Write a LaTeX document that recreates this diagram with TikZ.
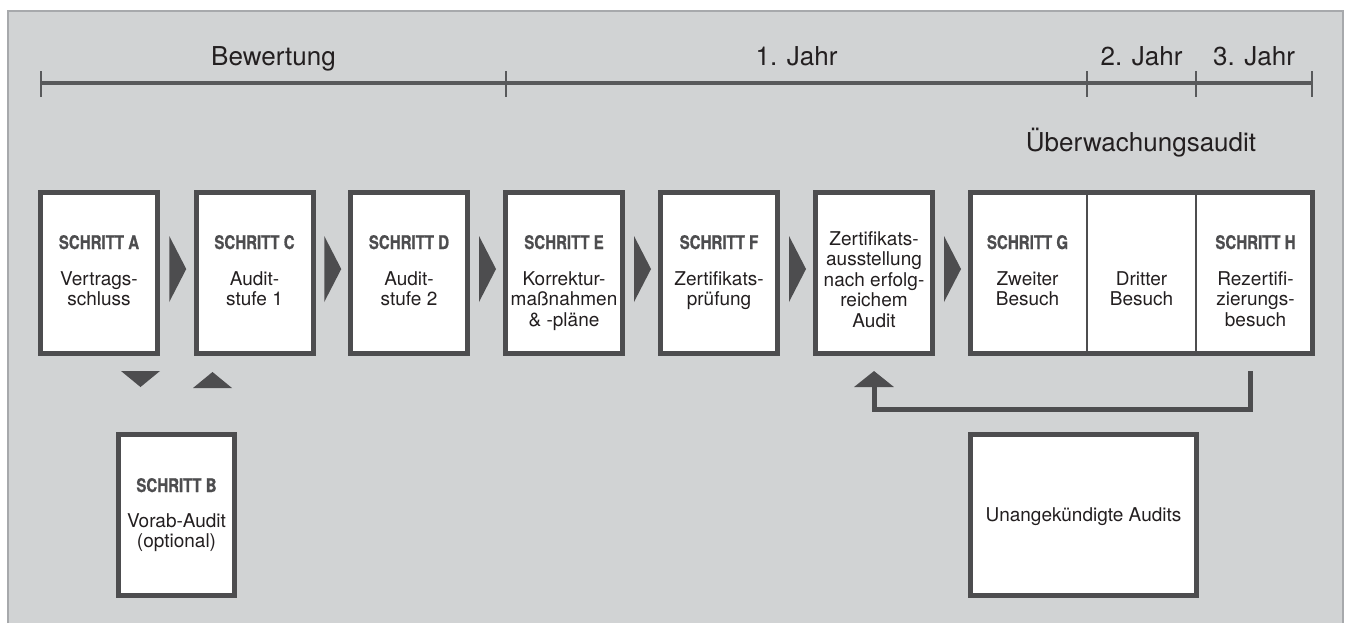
\documentclass[tikz,border=0pt]{standalone}
\usepackage{fontspec}
\setmainfont{TeX Gyre Heros}
\newfontfamily\cbfont[FakeStretch=0.8, FakeBold=0.8]{TeX Gyre Heros}
\usetikzlibrary{arrows.meta,calc}
\definecolor{panel}{HTML}{D1D3D4}
\definecolor{panelline}{HTML}{A7A9AC}
\definecolor{dark}{HTML}{4D4D4F}
\definecolor{txt}{HTML}{231F20}
\definecolor{tlc}{HTML}{58595B}
\newcommand\ml[1]{\begin{tabular}[t]{@{}c@{}}#1\end{tabular}}
\begin{document}
\begin{tikzpicture}[x=0.5pt,y=-0.5pt,
  stepbox/.style={draw=dark, line width=2.5pt, fill=white, inner sep=0pt, minimum width=58.5pt, minimum height=80.5pt},
  head/.style={font=\fontsize{9.4}{10}\cbfont\bfseries, text=dark, anchor=base, inner sep=0pt},
  body/.style={font=\fontsize{9.5}{10.2}\selectfont, text=txt, anchor=base, inner sep=0pt},
  big/.style={font=\fontsize{13}{15}\selectfont, text=txt, anchor=base, inner sep=0pt},
  tri/.style={fill=dark},
  tline/.style={draw=tlc, line width=1.6pt},
  tick/.style={draw=tlc, line width=1.2pt},
  ret/.style={draw=dark, line width=2.5pt, -{Triangle[width=19.5pt,length=8pt]}}
]
\useasboundingbox (0,0) rectangle (1347,623);
% panel
\fill[panel] (8,11) rectangle (1343,623);
\draw[panelline, line width=0.6pt] (8,623) -- (8,11) -- (1343,11) -- (1343,623);

% timeline
\coordinate (t0) at (41,83);
\coordinate (t1) at (506,83);
\coordinate (t2) at (1087,83);
\coordinate (t3) at (1196,83);
\coordinate (t4) at (1312,83);
\draw[tline] (t0) -- (t4);
\foreach \t in {t0,t1,t2,t3,t4} \draw[tick] ($(\t)+(0,-12)$) -- ($(\t)+(0,14)$);
\node[big] (lb) at (273.5,65) {Bewertung};
\node[big] (l1) at (796.5,65) {1. Jahr};
\node[big] (l2) at (1141.5,65) {2. Jahr};
\node[big] (l3) at (1254,65) {3. Jahr};
\node[big] (lu) at (1141,151) {Überwachungsaudit};

% boxes top row
\node[stepbox] (A) at (99,273) {};
\node[stepbox] (C) at (254.5,273) {};
\node[stepbox] (D) at (409,273) {};
\node[stepbox] (E) at (564,273) {};
\node[stepbox] (F) at (719,273) {};
\node[stepbox] (Z) at (874,273) {};
\node[stepbox, minimum width=171pt] (GH) at (1141.5,273) {};
\draw[draw=dark, line width=1.4pt] (1087,192.5) -- (1087,353.5);
\draw[draw=dark, line width=1.4pt] (1196,192.5) -- (1196,353.5);

% bottom boxes
\node[stepbox, minimum width=58pt] (B) at (176.5,515) {};
\node[stepbox, minimum width=113pt] (U) at (1083.5,515) {};

% texts
\node[head] (hA) at (99,249) {SCHRITT A};
\node[body] (bA) at (99,285.5) {\ml{Vertrags-\\schluss}};
\node[head] (hC) at (254.5,249) {SCHRITT C};
\node[body] (bC) at (254.5,285.5) {\ml{Audit-\\stufe 1}};
\node[head] (hD) at (409,249) {SCHRITT D};
\node[body] (bD) at (409,285.5) {\ml{Audit-\\stufe 2}};
\node[head] (hE) at (564,249) {SCHRITT E};
\node[body] (bE) at (564,285.5) {\ml{Korrektur-\\maßnahmen\\\& -pläne}};
\node[head] (hF) at (719,249) {SCHRITT F};
\node[body] (bF) at (719,285.5) {\ml{Zertifikats-\\prüfung}};
\node[body] (bZ) at (874,245.5) {\ml{Zertifikats-\\ausstellung\\nach erfolg-\\reichem\\Audit}};
\node[head] (hG) at (1027.5,249) {SCHRITT G};
\node[body] (bG) at (1027.5,285.5) {\ml{Zweiter\\Besuch}};
\node[body] (bD3) at (1141.5,285.5) {\ml{Dritter\\Besuch}};
\node[head] (hH) at (1255.5,249) {SCHRITT H};
\node[body] (bH) at (1255.5,285.5) {\ml{Rezertifi-\\zierungs-\\besuch}};
\node[head] (hB) at (176.5,492) {SCHRITT B};
\node[body] (bB) at (176.5,527) {\ml{Vorab-Audit\\(optional)}};
\node[body] (bU) at (1083.5,521) {Unangekündigte Audits};

% flow arrows
\foreach \a/\b in {A/C,C/D,D/E,E/F,F/Z,Z/GH}
  \fill[tri] ($(\a.east)!0.5!(\b.west)$) ++(-7.5,-37) -- ++(17,33) -- ++(-17,33) -- cycle;

% arrows to/from B
\fill[tri] ($(B.north)+(-55.5,-61)$) -- ++(39,0) -- ++(-19.5,16) -- cycle;
\fill[tri] ($(B.north)+(16.5,-44)$) -- ++(39,0) -- ++(-19.5,-16) -- cycle;

% return connector
\coordinate (hret) at ($(GH.south east)+(-64.5,15)$);
\coordinate (zret) at ($(Z.south)+(0,15)$);
\draw[ret] (hret) -- ++(0,38.5) -| (zret);
\end{tikzpicture}
\end{document}
